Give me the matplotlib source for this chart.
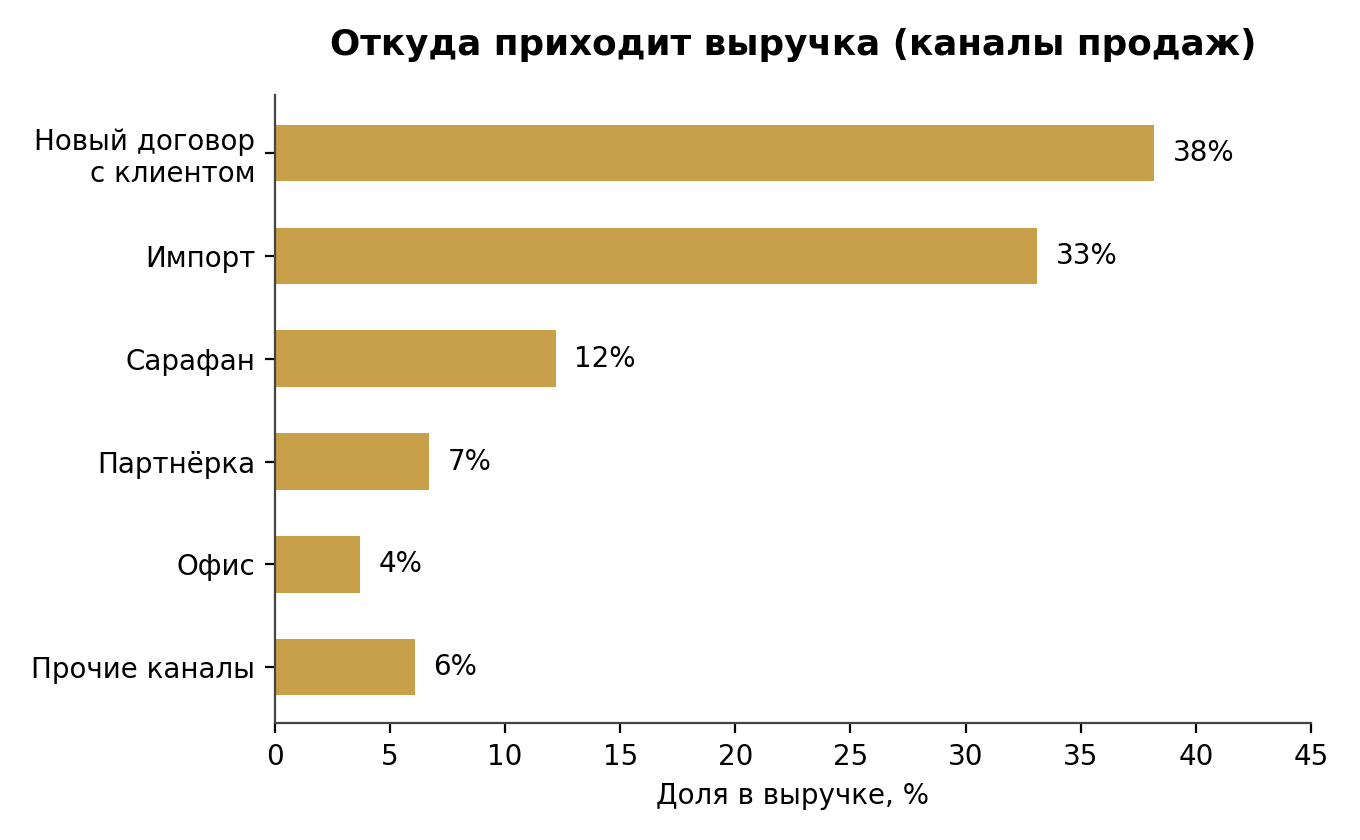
import matplotlib
matplotlib.use("Agg")
import matplotlib.pyplot as plt

categories = ["Новый договор\nс клиентом", "Импорт", "Сарафан", "Партнёрка", "Офис", "Прочие каналы"]
values = [38.2, 33.1, 12.2, 6.7, 3.7, 6.1]
labels = ["38%", "33%", "12%", "7%", "4%", "6%"]
xticks = [0, 5, 10, 15, 20, 25, 30, 35, 40, 45]

plt.rcParams['font.family'] = ['DejaVu Sans']

fig, ax = plt.subplots(figsize=(6.8, 4.2), dpi=200)
fig.subplots_adjust(left=0.202, right=0.964, top=0.887, bottom=0.139)

ypos = list(range(len(categories)))
ax.barh(ypos, values, height=0.55, color="#C8A04A")
ax.set_ylim(len(categories) - 1 + 0.545, -0.565)
ax.set_yticks(ypos)
ax.set_yticklabels(categories, fontsize=10)
for y, v, l in zip(ypos, values, labels):
    ax.text(v + 0.8, y, l, va="center", ha="left", fontsize=10)

ax.set_xlim(0, 45)
ax.set_xticks(xticks)
ax.tick_params(axis="x", labelsize=10)
ax.set_xlabel("Доля в выручке, %", fontsize=10)
ax.set_title("Откуда приходит выручка (каналы продаж)", fontsize=12.9, fontweight="bold", pad=14.2)
for s in ["top", "right"]:
    ax.spines[s].set_visible(False)
for s in ["left", "bottom"]:
    ax.spines[s].set_color("#444444")

fig.savefig("out.png", dpi=200)
